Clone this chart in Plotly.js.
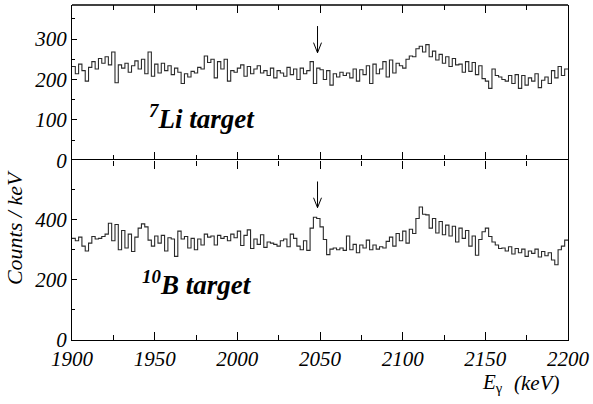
<!DOCTYPE html>
<html>
<head>
<meta charset="utf-8">
<script src="https://cdn.plot.ly/plotly-3.0.1.min.js"></script>
<style>
html,body{margin:0;padding:0;background:#fff}
#chart{width:593px;height:404px}
</style>
</head>
<body>
<div id="chart"></div>
<script>
// Histogram binning (keV)
const binStart = 1900;
const binWidth = 2;

// 7Li target counts per bin
const liCounts = [
  232,214,238,222,196,230,244,226,252,240,
  256,236,268,192,236,228,240,218,234,246,
  226,250,214,268,208,238,216,240,222,234,
  212,228,218,190,214,206,220,216,230,226,
  258,242,250,204,244,226,250,196,222,218,
  228,236,208,232,214,226,234,216,222,210,
  228,204,222,216,208,230,212,226,200,228,
  214,222,244,190,228,224,200,222,186,214,
  206,218,210,216,204,226,196,224,212,234,
  190,238,214,226,244,206,248,216,240,234,
  228,250,258,256,276,282,268,286,256,270,
  248,262,240,256,232,252,236,238,218,244,
  220,242,212,234,202,196,178,226,210,206,
  200,196,210,190,212,178,210,186,204,196,
  214,180,198,206,190,222,204,232,210,226
];

// 10B target counts per bin
const bCounts = [
  338,330,342,312,296,322,344,336,338,344,
  352,388,330,384,300,364,306,352,294,342,
  372,386,376,332,312,346,322,348,296,340,
  336,278,362,336,344,306,338,300,336,316,
  352,342,346,316,348,338,344,330,352,340,
  362,314,348,366,304,336,318,350,308,326,
  322,318,312,330,336,310,352,338,312,300,
  330,298,372,408,404,376,334,284,302,306,
  300,306,298,346,300,318,290,316,306,332,
  300,316,302,310,306,328,342,312,354,330,
  362,322,368,354,404,442,418,416,372,404,
  356,394,350,382,346,378,326,372,338,364,
  312,346,282,334,360,372,344,326,316,304,
  306,296,310,286,304,290,302,278,296,288,
  302,276,294,280,290,266,250,300,312,332
];

// Labels
const panelLabels = ["<b><i><sup>7</sup>Li target</i></b>", "<b><i><sup>10</sup>B target</i></b>"];
const yTitle = "Counts / keV";
const xTitleVar = "<i>E</i><sub>γ</sub>";
const xTitleUnit = "<i>(keV)</i>";
const xTickVals = [1900,1950,2000,2050,2100,2150,2200];
const xMinorVals = [1925,1975,2025,2075,2125,2175];
const liTickVals = [0,100,200,300];
const liMinorVals = [50,150,250,350];
const bTickVals = [0,200,400];
const bMinorVals = [100,300,500];
const arrowEnergy = 2048.5;

function edges(vals){
  const xs = vals.map((v,i)=>binStart + i*binWidth);
  xs.push(binStart + vals.length*binWidth);
  return xs;
}
function ext(vals){ return vals.concat([vals[vals.length-1]]); }

const lineStyle = {color:'#2a2a2a', width:1.1, shape:'hv'};
const traces = [
  {x: edges(bCounts), y: ext(bCounts), type:'scatter', mode:'lines', line:lineStyle, xaxis:'x', yaxis:'y', hoverinfo:'skip'},
  {x: edges(liCounts), y: ext(liCounts), type:'scatter', mode:'lines', line:lineStyle, xaxis:'x2', yaxis:'y2', hoverinfo:'skip'}
];

const SERIF = "Liberation Serif";
const tickFont = {family:SERIF, size:21, color:'#000'};
const italic = v => '<i>'+v+'</i>';
const split = 0.536;
const xCommon = {
  range:[1900,2200], ticks:'inside', ticklen:8, tickwidth:1.2, tickcolor:'#000',
  showgrid:false, zeroline:false, tickvals:xTickVals,
  minor:{tickvals:xMinorVals, ticks:'inside', ticklen:5, tickwidth:1, tickcolor:'#000'}
};
const yCommon = {
  ticks:'inside', ticklen:5, tickwidth:1.2, tickcolor:'#000',
  showline:true, linecolor:'#000', linewidth:1.3, mirror:true, showgrid:false, zeroline:false,
  tickfont:tickFont
};

function arrowPath(x, yTop, yTip, dx, dy){
  return `M ${x},${yTop} L ${x},${yTip} M ${x-dx},${yTip+dy} L ${x},${yTip} L ${x+dx},${yTip+dy}`;
}

const ann = (x, y, text, size, extra) => Object.assign({xref:'paper', yref:'paper', x:x, y:y, text:text, showarrow:false, xanchor:'center', yanchor:'middle', font:{family:SERIF, size:size, color:'#000'}}, extra||{});

const layout = {
  width:593, height:404,
  margin:{l:72, r:24.5, t:5, b:63.5},
  paper_bgcolor:'#fff', plot_bgcolor:'#fff',
  font:{family:SERIF, color:'#000'},
  showlegend:false,
  xaxis: Object.assign({}, xCommon, {anchor:'y', domain:[0,1], tickfont:tickFont, ticktext:xTickVals.map(v=>italic(v)),
    showline:true, linecolor:'#000', linewidth:1.3, mirror:'ticks'}),
  xaxis2: Object.assign({}, xCommon, {anchor:'y2', domain:[0,1], showticklabels:false, showline:false, mirror:'ticks'}),
  yaxis: Object.assign({}, yCommon, {domain:[0,split], range:[0,597], tickvals:bTickVals, ticktext:bTickVals.map(v=>italic(v)),
    minor:{tickvals:bMinorVals, ticks:'inside', ticklen:3, tickcolor:'#000'}}),
  yaxis2: Object.assign({}, yCommon, {domain:[split,1], range:[0,384], tickvals:liTickVals, ticktext:liTickVals.map(v=>italic(v)),
    minor:{tickvals:liMinorVals, ticks:'inside', ticklen:3, tickcolor:'#000'}}),
  shapes:[
    {type:'line', xref:'paper', yref:'paper', x0:0, x1:1, y0:1, y1:1, line:{color:'#000', width:1.3}},
    {type:'path', xref:'x2', yref:'y2', path:arrowPath(arrowEnergy, 332, 266, 2.4, 25), line:{color:'#000', width:1}},
    {type:'path', xref:'x', yref:'y', path:arrowPath(arrowEnergy, 527, 440, 2.4, 33), line:{color:'#000', width:1}}
  ],
  annotations:[
    ann(0.262, 0.666, panelLabels[0], 27),
    ann(0.252, 0.171, panelLabels[1], 27),
    ann(-0.117, 0.337, italic(yTitle), 22, {textangle:-90}),
    ann(0.847, -0.128, xTitleVar, 21),
    ann(0.937, -0.128, xTitleUnit, 21)
  ]
};

function draw(){ Plotly.newPlot('chart', traces, layout, {displayModeBar:false}); }
if (document.fonts && document.fonts.ready) { document.fonts.ready.then(draw); } else { draw(); }
</script>
</body>
</html>
